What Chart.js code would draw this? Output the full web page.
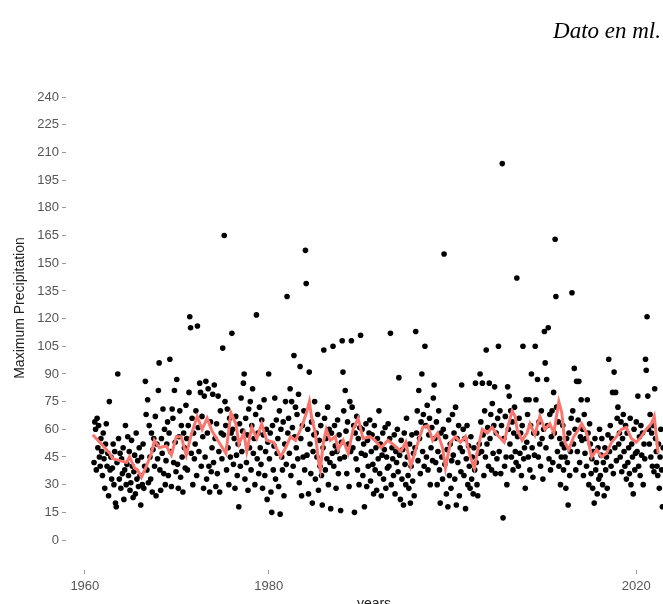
<!DOCTYPE html>
<html lang="es">
<head>
<meta charset="UTF-8">
<title>Maximum Precipitation</title>
<script src="https://cdn.jsdelivr.net/npm/chart.js"></script>
<style>
    html, body {
        margin: 0;
        padding: 0;
        background: #fff;
        overflow: hidden;
        width: 663px;
        height: 604px;
    }
    .wrap {
        position: relative;
        width: 686px;
        height: 614px;
    }
    .note {
        position: absolute;
        right: 25px;
        top: 18px;
        font-family: 'Liberation Serif', 'Times New Roman', serif;
        font-style: italic;
        font-size: 23px;
        color: #000;
    }
</style>
</head>
<body>
<div class="wrap">
    <canvas id="chart" width="686" height="614"></canvas>
    <div class="note">Dato en ml.</div>
</div>
<script>
    // monthly maximum precipitation, January 1961 onwards (one row per year)
    const startYear = 1961;
    const monthlyMax = [
        42, 64, 60, 38, 66, 50, 62, 45, 40, 55, 48, 35,   // 1961
        58, 44, 28, 52, 63, 40, 47, 24, 75, 38, 45, 33,   // 1962
        39, 52, 30, 48, 20, 18, 42, 90, 55, 33, 47, 28,   // 1963
        44, 36, 50, 22, 38, 62, 30, 41, 56, 35, 48, 27,   // 1964
        31, 54, 40, 23, 37, 46, 25, 58, 33, 43, 29, 50,   // 1965
        35, 19, 45, 30, 52, 28, 40, 86, 68, 38, 76, 31,   // 1966
        62, 45, 33, 58, 26, 49, 55, 40, 67, 24, 52, 44,   // 1967
        81, 96, 38, 27, 55, 47, 71, 36, 60, 30, 43, 52,   // 1968
        64, 35, 58, 98, 48, 29, 71, 66, 42, 81, 53, 37,   // 1969
        87, 41, 28, 56, 70, 34, 62, 45, 26, 58, 50, 39,   // 1970
        73, 55, 38, 62, 80, 121, 115, 47, 66, 30, 58, 44, // 1971
        52, 70, 35, 116, 61, 48, 85, 80, 40, 67, 56, 28,  // 1972
        78, 45, 86, 33, 58, 82, 40, 26, 64, 37, 50, 79,   // 1973
        42, 84, 55, 29, 63, 36, 78, 48, 26, 70, 58, 44,   // 1974
        104, 57, 165, 75, 62, 38, 71, 50, 30, 66, 45, 58, // 1975
        112, 60, 41, 55, 28, 67, 46, 35, 52, 18, 63, 40,  // 1976
        77, 48, 59, 85, 90, 33, 66, 42, 57, 27, 71, 50,   // 1977
        75, 38, 62, 82, 47, 55, 30, 68, 122, 44, 58, 36,  // 1978
        72, 50, 41, 65, 28, 57, 76, 35, 48, 60, 22, 53,   // 1979
        90, 44, 58, 26, 15, 62, 38, 51, 77, 33, 65, 47,   // 1980
        55, 29, 70, 14, 60, 45, 38, 64, 24, 52, 75, 41,   // 1981
        132, 58, 66, 47, 82, 35, 75, 61, 40, 100, 56, 72, // 1982
        50, 68, 44, 79, 31, 94, 55, 24, 62, 45, 70, 38,   // 1983
        157, 139, 46, 60, 25, 91, 52, 36, 64, 20, 48, 57, // 1984
        75, 33, 58, 45, 68, 27, 54, 40, 62, 35, 19, 50,   // 1985
        103, 66, 38, 55, 44, 72, 30, 60, 42, 17, 58, 47,  // 1986
        105, 40, 62, 51, 28, 48, 65, 36, 57, 44, 16, 53,  // 1987
        108, 91, 70, 45, 81, 59, 36, 64, 52, 29, 75, 48,  // 1988
        108, 72, 50, 62, 15, 58, 44, 67, 38, 55, 30, 61,  // 1989
        111, 47, 60, 35, 52, 18, 46, 63, 29, 54, 40, 58,  // 1990
        65, 32, 48, 57, 41, 25, 62, 38, 50, 27, 55, 44,   // 1991
        70, 36, 52, 24, 46, 58, 33, 49, 61, 28, 45, 39,   // 1992
        63, 40, 55, 112, 30, 50, 44, 35, 57, 25, 48, 42,  // 1993
        60, 37, 88, 46, 22, 54, 33, 49, 19, 58, 41, 30,   // 1994
        66, 45, 35, 28, 52, 20, 40, 57, 32, 47, 24, 50,   // 1995
        113, 58, 70, 43, 81, 55, 36, 64, 90, 48, 68, 40,  // 1996
        105, 62, 45, 73, 38, 57, 66, 30, 50, 61, 43, 77,  // 1997
        84, 55, 42, 64, 30, 48, 70, 38, 20, 58, 45, 33,   // 1998
        60, 155, 41, 56, 25, 49, 18, 65, 35, 52, 28, 43,  // 1999
        68, 46, 58, 33, 72, 19, 55, 42, 62, 24, 50, 37,   // 2000
        84, 48, 60, 35, 55, 17, 44, 62, 30, 51, 40, 28,   // 2001
        56, 33, 45, 25, 50, 38, 85, 42, 30, 24, 47, 52,   // 2002
        90, 64, 48, 85, 57, 35, 70, 45, 103, 52, 61, 40,  // 2003
        85, 55, 68, 38, 74, 47, 62, 83, 36, 58, 44, 66,   // 2004
        105, 48, 70, 36, 62, 204, 12, 55, 40, 67, 45, 30, // 2005
        83, 60, 78, 52, 70, 45, 64, 38, 58, 72, 48, 42,   // 2006
        142, 56, 40, 66, 47, 58, 35, 62, 105, 44, 50, 28, // 2007
        76, 53, 68, 45, 76, 38, 62, 90, 50, 34, 58, 46,   // 2008
        105, 76, 58, 87, 45, 64, 52, 40, 70, 55, 33, 60,  // 2009
        113, 96, 50, 87, 62, 115, 44, 68, 38, 56, 70, 42, // 2010
        80, 58, 163, 132, 72, 48, 64, 40, 55, 30, 45, 52, // 2011
        62, 38, 50, 45, 28, 55, 42, 19, 58, 35, 48, 66,   // 2012
        134, 70, 52, 93, 60, 38, 86, 48, 65, 86, 42, 56,  // 2013
        76, 54, 60, 35, 68, 47, 55, 40, 76, 58, 30, 63,   // 2014
        52, 36, 44, 28, 48, 20, 55, 38, 42, 25, 50, 33,   // 2015
        60, 35, 46, 55, 30, 42, 24, 50, 38, 45, 28, 57,   // 2016
        98, 48, 62, 40, 55, 80, 36, 91, 50, 80, 43, 66,   // 2017
        72, 52, 58, 45, 64, 37, 55, 68, 48, 40, 62, 33,   // 2018
        58, 42, 50, 36, 66, 30, 52, 45, 25, 60, 38, 47,   // 2019
        64, 48, 78, 40, 56, 35, 62, 46, 58, 30, 52, 44,   // 2020
        98, 92, 121, 78, 60, 52, 68, 45, 58, 40, 62, 37,  // 2021
        82, 55, 48, 40, 35, 52, 28, 45, 60, 38, 18, 50    // 2022
    ];

    // smoothed curve (red)
    const trendYears = [
        1960.86, 1961.62, 1962.16, 1962.70, 1963.03, 1963.78, 1964.54, 1964.86, 1965.41, 1965.73,
        1966.16, 1966.70, 1967.24, 1967.57, 1968.11, 1968.86, 1969.41, 1969.95, 1970.49, 1971.03,
        1971.57, 1972.22, 1972.76, 1973.30, 1973.84, 1974.59, 1975.35, 1975.89, 1976.43, 1976.76,
        1977.30, 1977.62, 1978.16, 1978.70, 1979.24, 1979.78, 1980.54, 1981.30, 1981.84, 1982.38,
        1982.92, 1983.57, 1984.11, 1984.43, 1984.65, 1985.08, 1985.41, 1985.62, 1985.95, 1986.27,
        1986.70, 1987.24, 1987.57, 1988.11, 1988.65, 1989.19, 1989.73, 1990.27, 1991.03, 1991.57,
        1992.22, 1992.97, 1993.73, 1994.38, 1994.92, 1995.46, 1996.00, 1996.76, 1997.30, 1997.84,
        1998.38, 1998.92, 1999.24, 1999.78, 2000.32, 2000.86, 2001.41, 2001.95, 2002.38, 2002.92,
        2003.24, 2003.78, 2004.32, 2004.86, 2005.62, 2005.95, 2006.49, 2006.81, 2007.03, 2007.57,
        2008.11, 2008.43, 2008.97, 2009.51, 2010.05, 2010.59, 2011.03, 2011.57, 2011.89, 2012.22,
        2012.65, 2013.19, 2013.73, 2014.05, 2014.59, 2015.14, 2015.68, 2016.22, 2016.76, 2017.30,
        2017.84, 2018.38, 2018.92, 2019.46, 2020.00, 2020.54, 2021.08, 2021.62, 2021.95, 2022.38
    ];
    const trendValues = [
        57, 53, 50, 47, 44, 43, 42, 45, 39, 38,
        34, 40, 47, 54, 50, 51, 46, 56, 56, 46,
        57, 67, 60, 66, 59, 53, 47, 69, 63, 52,
        58, 48, 61, 55, 63, 54, 53, 45, 50, 56,
        54, 61, 69, 75, 67, 58, 43, 38, 53, 60,
        54, 56, 49, 54, 47, 60, 66, 55, 56, 54,
        50, 54, 51, 48, 53, 40, 49, 61, 62, 54,
        58, 50, 39, 53, 56, 53, 56, 45, 39, 53,
        60, 58, 61, 57, 53, 60, 70, 67, 60, 54,
        58, 63, 57, 67, 60, 63, 58, 75, 69, 53,
        49, 56, 60, 63, 58, 45, 49, 45, 47, 53,
        56, 60, 61, 55, 53, 56, 60, 63, 67, 47
    ];

    const yearTicks = [1960, 1980, 2020];
    const precipTicks = [0, 15, 30, 45, 60, 75, 90, 105, 120, 135, 150, 165, 180, 195, 210, 225, 240];

    const points = monthlyMax.map((v, i) => ({ x: startYear + i / 12, y: v }));
    const trend = trendYears.map((yr, i) => ({ x: yr, y: trendValues[i] }));

    const tickFont = { family: "'Liberation Sans', Arial, sans-serif", size: 13 };
    const titleFont = { family: "'Liberation Sans', Arial, sans-serif", size: 14 };

    new Chart(document.getElementById('chart'), {
        type: 'scatter',
        data: {
            datasets: [
                {
                    type: 'line',
                    data: trend,
                    borderColor: '#F8766D',
                    borderWidth: 3,
                    pointRadius: 0,
                    tension: 0,
                    order: 0
                },
                {
                    data: points,
                    backgroundColor: '#000',
                    borderWidth: 0,
                    pointRadius: 2.8,
                    order: 1
                }
            ]
        },
        options: {
            responsive: false,
            animation: false,
            events: [],
            layout: { padding: { top: 46, right: 0, bottom: 0, left: 0 } },
            plugins: {
                legend: { display: false },
                tooltip: { enabled: false }
            },
            scales: {
                x: {
                    type: 'linear',
                    min: 1957.95,
                    max: 2024.97,
                    afterBuildTicks: scale => { scale.ticks = yearTicks.map(v => ({ value: v })); },
                    afterFit: scale => { scale.height = 44; },
                    grid: { drawOnChartArea: false, tickLength: 4, color: '#999' },
                    border: { display: false },
                    ticks: { color: '#555', font: tickFont, padding: 5, maxRotation: 0, callback: v => String(v) },
                    title: { display: true, text: 'years', color: '#222', font: titleFont, padding: { top: 4, bottom: 1 } }
                },
                y: {
                    min: -16.26,
                    max: 267.75,
                    afterBuildTicks: scale => { scale.ticks = precipTicks.map(v => ({ value: v })); },
                    afterFit: scale => { scale.width = 66; },
                    grid: { drawOnChartArea: false, tickLength: 4, color: '#999' },
                    border: { display: false },
                    ticks: { color: '#555', font: tickFont, padding: 3, callback: v => String(v) },
                    title: { display: true, text: 'Maximum Precipitation', color: '#222', font: titleFont, padding: { top: 12, bottom: 4 } }
                }
            }
        }
    });
</script>
</body>
</html>
